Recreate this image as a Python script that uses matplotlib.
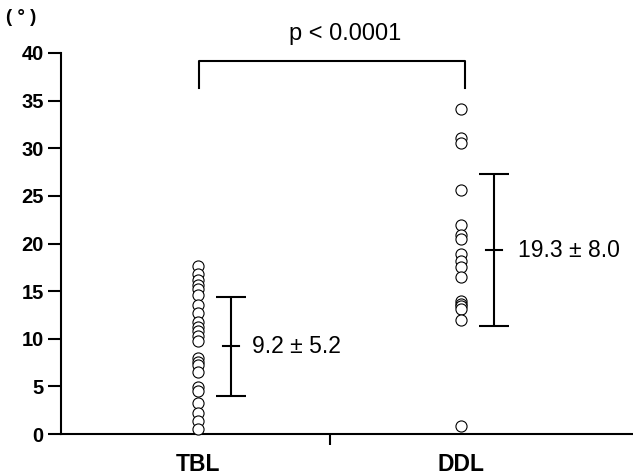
import matplotlib.pyplot as plt

plt.rcParams["font.family"] = ["Liberation Sans", "DejaVu Sans"]

# data
groups = ["TBL", "DDL"]
tbl = [17.6, 16.8, 16.2, 15.6, 15.2, 14.6, 13.5, 12.7, 11.8, 11.2, 10.8, 10.3,
       9.8, 8.0, 7.6, 7.2, 6.5, 4.9, 4.5, 3.3, 2.2, 1.4, 0.5]
ddl = [34.1, 31.1, 30.6, 25.6, 21.9, 20.9, 20.5, 18.9, 18.2, 17.5, 16.5,
       14.0, 13.7, 13.4, 13.1, 12.0, 0.8]
means = [9.2, 19.3]
sds = [5.2, 8.0]
p_text = "p < 0.0001"

fig = plt.figure(figsize=(6.33, 4.75), dpi=100)
ax = fig.add_axes([61 / 633, 1 - 434 / 475, 1 - 61 / 633, (434 - 53) / 475])

# points
for i, vals in enumerate([tbl, ddl]):
    ax.plot([i + 1] * len(vals), vals, "o", mfc="white", mec="black",
            ms=8, mew=0.8, clip_on=False, zorder=3)

# mean +/- sd bars
for i, (m, s) in enumerate(zip(means, sds)):
    x = i + 1 + 0.125
    ax.errorbar(x, m, yerr=s, fmt="none", ecolor="black", elinewidth=1.5,
                capsize=11, capthick=1.5)
    ax.plot([x - 0.03, x + 0.03], [m, m], color="black", lw=1.5)
    ax.text(x + 0.08 + 0.01 * i, m, f"{m:.1f} ± {s:.1f}", fontsize=16.5,
            va="center", ha="left")

# significance bracket
ax.plot([1.004, 1.004, 2.015, 2.015], [36.3, 39.2, 39.2, 36.3],
        color="black", lw=1.5, clip_on=False)
ax.text(1.56, 42.0, p_text, fontsize=17, ha="center", va="center")
fig.text(21 / 633, 1 - 17 / 475, "( ° )", fontsize=13.5, fontweight="bold",
         ha="center", va="center")

ax.set_xlim(0.479, 2.654)
ax.set_ylim(0, 40)
ax.set_yticks(range(0, 41, 5))
ax.set_xticks([1, 2])
ax.set_xticklabels(groups, fontsize=16.5, fontweight="bold")
ax.set_xticks([1.5], minor=True)
ax.tick_params(axis="x", which="major", length=0, pad=14)
ax.tick_params(axis="x", which="minor", length=8, width=1.5, direction="out")
ax.tick_params(axis="y", length=9.5, width=1.5, labelsize=14.5, pad=3)
for lab in ax.get_yticklabels():
    lab.set_fontweight("bold")

for side in ["top", "right"]:
    ax.spines[side].set_visible(False)
for side in ["left", "bottom"]:
    ax.spines[side].set_linewidth(1.5)

fig.savefig("out.png", dpi=100)
